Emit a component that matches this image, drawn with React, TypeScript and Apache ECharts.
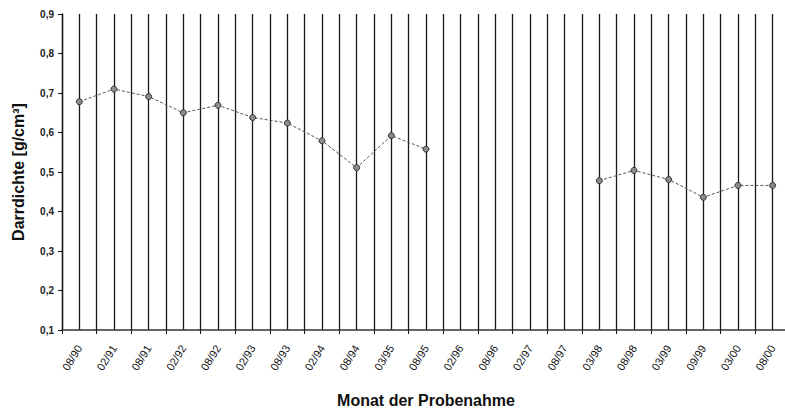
import React, { useEffect, useRef } from "react";
import * as echarts from "echarts";

const categories = [
  "08/90", "02/91", "08/91", "02/92", "08/92", "02/93", "08/93", "02/94", "08/94", "03/95",
  "08/95", "02/96", "08/96", "02/97", "08/97", "03/98", "08/98", "03/99", "09/99", "03/00", "08/00",
];

const density: (number | null)[] = [
  0.678, 0.71, 0.691, 0.65, 0.669, 0.638, 0.624, 0.579, 0.511, 0.592,
  0.558, null, null, null, null, 0.478, 0.504, 0.481, 0.436, 0.466, 0.466,
];

const yTitle = "Darrdichte [g/cm³]";
const xTitle = "Monat der Probenahme";

export default function App() {
  const ref = useRef<HTMLDivElement>(null);
  useEffect(() => {
    if (!ref.current) return;
    const chart = echarts.init(ref.current, undefined, { renderer: "svg" });
    const font = "'Liberation Sans', Arial, sans-serif";
    chart.setOption({
      animation: false,
      backgroundColor: "#ffffff",
      textStyle: { fontFamily: font },
      grid: { left: 62, top: 14, right: 0, bottom: 78, outerBoundsMode: "none", containLabel: false },
      xAxis: [
        {
          type: "category",
          data: categories,
          boundaryGap: true,
          axisLine: { show: true, lineStyle: { color: "#333", width: 1.5 } },
          axisTick: { show: true, length: 4, lineStyle: { color: "#111", width: 1 } },
          axisLabel: {
            rotate: 58,
            interval: 0,
            margin: 16,
            fontSize: 11,
            color: "#111",
            fontFamily: font,
          },
          splitLine: { show: false },
          name: xTitle,
          nameLocation: "middle",
          nameGap: 62,
          nameTextStyle: { fontSize: 16, fontWeight: "bold", color: "#111", fontFamily: font },
        },
        {
          type: "value",
          min: 0,
          max: 42,
          interval: 1,
          position: "bottom",
          axisLine: { show: false },
          axisTick: { show: false },
          axisLabel: { show: false },
          splitLine: { show: true, lineStyle: { color: "#1a1a1a", width: 1.3 } },
        },
      ],
      yAxis: {
        type: "value",
        min: 0.1,
        max: 0.9,
        interval: 0.1,
        axisLine: { show: true, lineStyle: { color: "#111", width: 1.3 } },
        axisTick: { show: true, length: 4, lineStyle: { color: "#111" } },
        axisLabel: {
          fontSize: 10,
          fontWeight: "bold",
          color: "#222",
          margin: 8,
          fontFamily: font,
          formatter: (v: number) => v.toFixed(1).replace(".", ","),
        },
        splitLine: { show: false },
        name: yTitle,
        nameLocation: "middle",
        nameGap: 36,
        nameTextStyle: { fontSize: 16, fontWeight: "bold", color: "#111", fontFamily: font },
      },
      series: [
        {
          type: "line",
          xAxisIndex: 0,
          data: density,
          connectNulls: false,
          symbol: "circle",
          symbolSize: 6,
          itemStyle: { color: "#8a8a8a", borderColor: "#333", borderWidth: 1 },
          lineStyle: { color: "#555", width: 1, type: [3, 2] },
          z: 5,
        },
      ],
    });
    return () => chart.dispose();
  }, []);
  return (
    <div
      style={{ position: "absolute", left: 0, top: 0, width: 785, height: 408, overflow: "hidden", background: "#fff" }}
    >
      <div ref={ref} style={{ width: 790, height: 408 }} />
    </div>
  );
}
